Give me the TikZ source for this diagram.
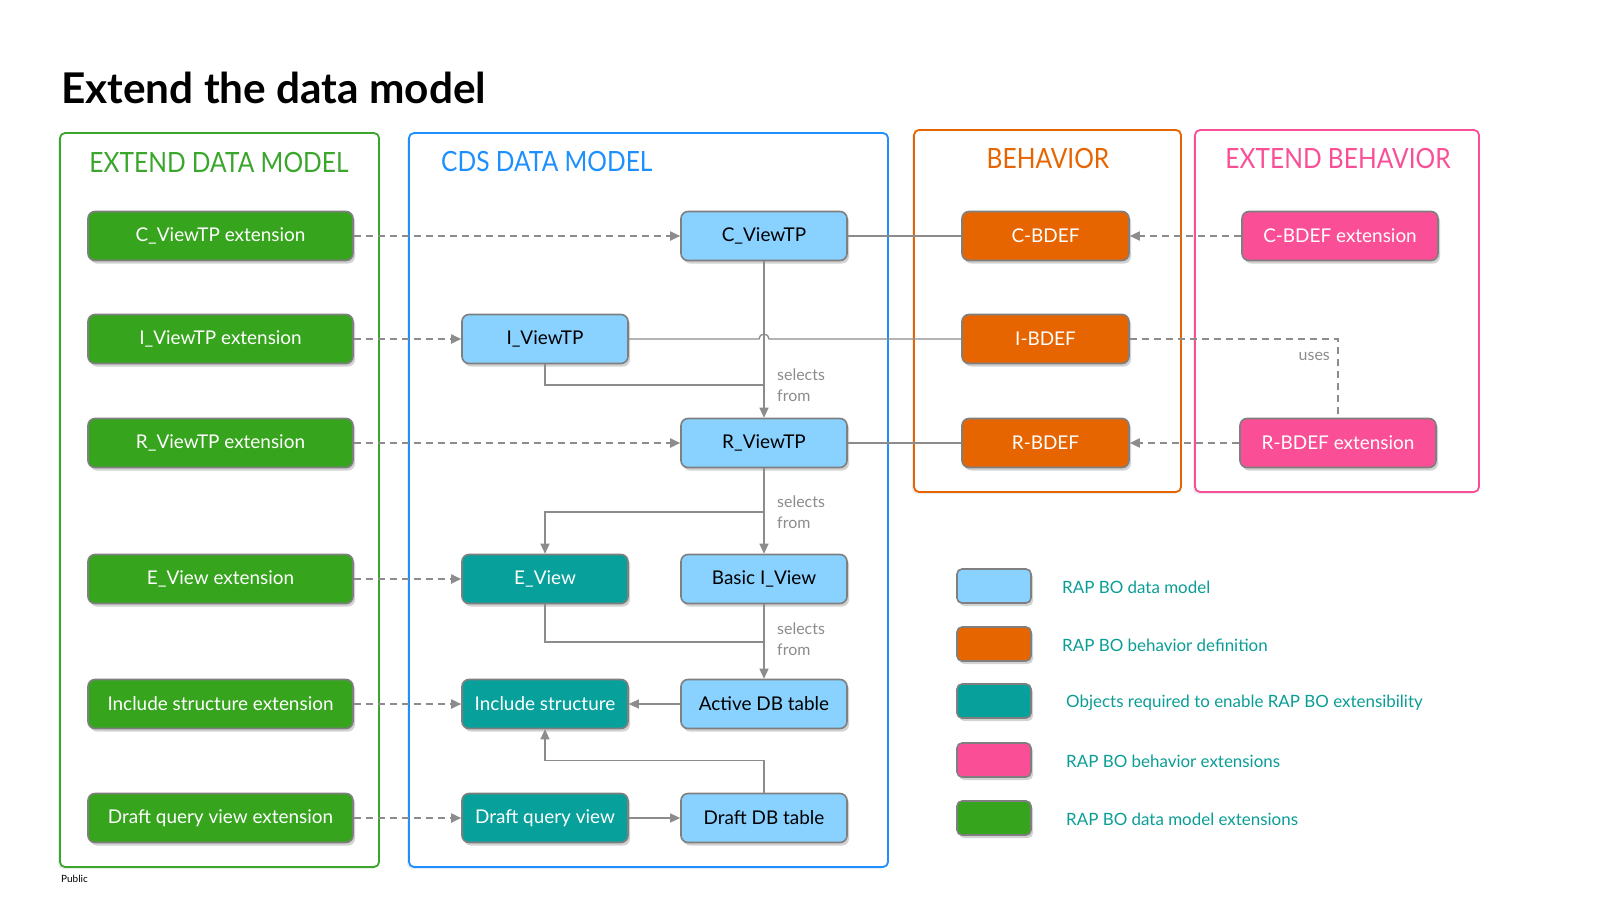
\documentclass[tikz,border=0pt]{standalone}
\usepackage{fontspec}
\setmainfont{Lato}
\newfontfamily\panefont[FakeStretch=0.88]{Lato}
\usetikzlibrary{arrows.meta,shadows}

\definecolor{dmblue}{HTML}{89D1FF}
\definecolor{dmgreen}{HTML}{36A41D}
\definecolor{bhorange}{HTML}{E76500}
\definecolor{exteal}{HTML}{07A09B}
\definecolor{bhpink}{HTML}{FA4F96}
\definecolor{panegreen}{HTML}{3AA62B}
\definecolor{paneblue}{HTML}{1E8FFF}
\definecolor{boxgray}{HTML}{7F7F7F}
\definecolor{linegray}{HTML}{8C8C8C}
\definecolor{legendtext}{HTML}{0A9D96}

\tikzset{
  obj/.style={draw=boxgray, line width=1.6bp, rounded corners=7bp,
    minimum height=49bp, inner sep=0pt, font=\fontsize{19}{21}\selectfont,
    drop shadow={shadow xshift=2bp, shadow yshift=-3bp, opacity=0.35}},
  extbox/.style={obj, fill=dmgreen, text=white, minimum width=265bp},
  cdsbox/.style={obj, fill=dmblue, text=black, minimum width=166bp},
  reqbox/.style={obj, fill=exteal, text=white, minimum width=166bp},
  bdefbox/.style={obj, fill=bhorange, text=white, minimum width=167bp},
  bextbox/.style={obj, fill=bhpink, text=white, minimum width=196bp},
  pane/.style={line width=1.8bp, rounded corners=5bp, fill=white,
    drop shadow={shadow xshift=-2bp, shadow yshift=-2bp, opacity=0.15}},
  panetitle/.style={font=\panefont\fontsize{28}{30}\selectfont},
  link/.style={draw=linegray, line width=1.3bp},
  dep/.style={draw=linegray, line width=1.8bp, dash pattern=on 7bp off 5bp},
  arr/.style={-{Triangle[length=10bp,width=9bp]}},
  remark/.style={text=linegray, font=\fontsize{16}{21}\selectfont, align=left, anchor=west, inner sep=0pt},
  swatch/.style={obj, minimum width=74bp, minimum height=34bp, rounded corners=5bp},
  legend/.style={text=legendtext, font=\fontsize{17}{20}\selectfont, anchor=west, inner sep=0pt}
}

\begin{document}
\begin{tikzpicture}[x=1bp,y=-1bp]
\useasboundingbox (0,0) rectangle (1615,903);

% Title
\node[anchor=base west, inner sep=0pt, font=\bfseries\fontsize{42.5}{46}\selectfont] (title) at (61,103) {Extend the data model};
\node[anchor=west, inner sep=0pt, font=\fontsize{10}{12}\selectfont] (public) at (61,879) {Public};

% Panes
\draw[pane, draw=panegreen] (60,133) rectangle (379,867);
\draw[pane, draw=paneblue] (409,133) rectangle (888,867);
\draw[pane, draw=bhorange] (914,130) rectangle (1181,492);
\draw[pane, draw=bhpink] (1195,130) rectangle (1479,492);

\node[panetitle, text=panegreen] (tdm) at (219,162) {EXTEND DATA MODEL};
\node[panetitle, text=paneblue, anchor=west, inner sep=0pt] (tcds) at (441,162) {CDS DATA MODEL};
\node[panetitle, text=bhorange] (tbh) at (1048,158) {BEHAVIOR};
\node[panetitle, text=bhpink] (tebh) at (1338,158) {EXTEND BEHAVIOR};

% Extend data model
\node[extbox] (cext) at (220.5,236) {C\_ViewTP extension};
\node[extbox] (iext) at (220.5,339) {I\_ViewTP extension};
\node[extbox] (rext) at (220.5,443) {R\_ViewTP extension};
\node[extbox] (eext) at (220.5,579) {E\_View extension};
\node[extbox] (incext) at (220.5,704) {Include structure extension};
\node[extbox] (dqext) at (220.5,818) {Draft query view extension};

% CDS data model
\node[cdsbox] (cview) at (764,236) {C\_ViewTP};
\node[cdsbox] (iview) at (545,339) {I\_ViewTP};
\node[cdsbox] (rview) at (764,443) {R\_ViewTP};
\node[reqbox] (eview) at (545,579) {E\_View};
\node[cdsbox] (basic) at (764,579) {Basic I\_View};
\node[reqbox] (incl) at (545,704) {Include structure};
\node[cdsbox] (active) at (764,704) {Active DB table};
\node[reqbox] (dqview) at (545,818) {Draft query view};
\node[cdsbox] (draftdb) at (764,818) {Draft DB table};

% Behavior
\node[bdefbox] (cbdef) at (1045.5,236) {C-BDEF};
\node[bdefbox] (ibdef) at (1045.5,339) {I-BDEF};
\node[bdefbox] (rbdef) at (1045.5,443) {R-BDEF};
\node[bextbox] (cbext) at (1340,236) {C-BDEF extension};
\node[bextbox] (rbext) at (1338,443) {R-BDEF extension};

% Legend
\node[swatch, fill=dmblue] (s1) at (994,586) {};
\node[swatch, fill=bhorange] (s2) at (994,644) {};
\node[swatch, fill=exteal] (s3) at (994,701) {};
\node[swatch, fill=bhpink] (s4) at (994,760) {};
\node[swatch, fill=dmgreen] (s5) at (994,818) {};
\node[legend] (l1) at (1062,587) {RAP BO data model};
\node[legend] (l2) at (1062,645) {RAP BO behavior definition};
\node[legend] (l3) at (1066,703) {Objects required to enable RAP BO extensibility};
\node[legend] (l4) at (1066,761) {RAP BO behavior extensions};
\node[legend] (l5) at (1066,819) {RAP BO data model extensions};

% Extensions
\draw[dep, arr] (cext) -- (cview);
\draw[dep, arr] (iext) -- (iview);
\draw[dep, arr] (rext) -- (rview);
\draw[dep, arr] (eext) -- (eview);
\draw[dep, arr] (incext) -- (incl);
\draw[dep, arr] (dqext) -- (dqview);
\draw[dep, arr] (cbext) -- (cbdef);
\draw[dep, arr] (rbext) -- (rbdef);
\draw[dep] (ibdef.east) -| (rbext.north);
\node[remark, anchor=east] (uses) at (1330,356) {uses};

% Views to behavior
\draw[link] (cview) -- (cbdef);
\draw[link] (rview) -- (rbdef);
\draw[link] (iview.east) -- (759,339) arc[start angle=180, end angle=0, radius=5bp] -- (ibdef.west);

% Selects from
\coordinate (jI) at (764,385);
\coordinate (jE) at (764,512);
\coordinate (jA) at (764,642);
\draw[link, arr] (cview) -- (rview);
\draw[link] (iview.south) |- (jI);
\draw[link, arr] (rview) -- (basic);
\draw[link, arr] (jE) -| (eview.north);
\draw[link, arr] (basic) -- (active);
\draw[link] (eview.south) |- (jA);
\draw[link, arr] (active) -- (incl);
\draw[link, arr] (draftdb.north) -- ++(0,-32) -| (incl.south);
\draw[link, arr] (dqview) -- (draftdb);
\node[remark] (sel1) at (777,385.5) {selects\\from};
\node[remark] (sel2) at (777,512) {selects\\from};
\node[remark] (sel3) at (777,639.5) {selects\\from};
\end{tikzpicture}
\end{document}
